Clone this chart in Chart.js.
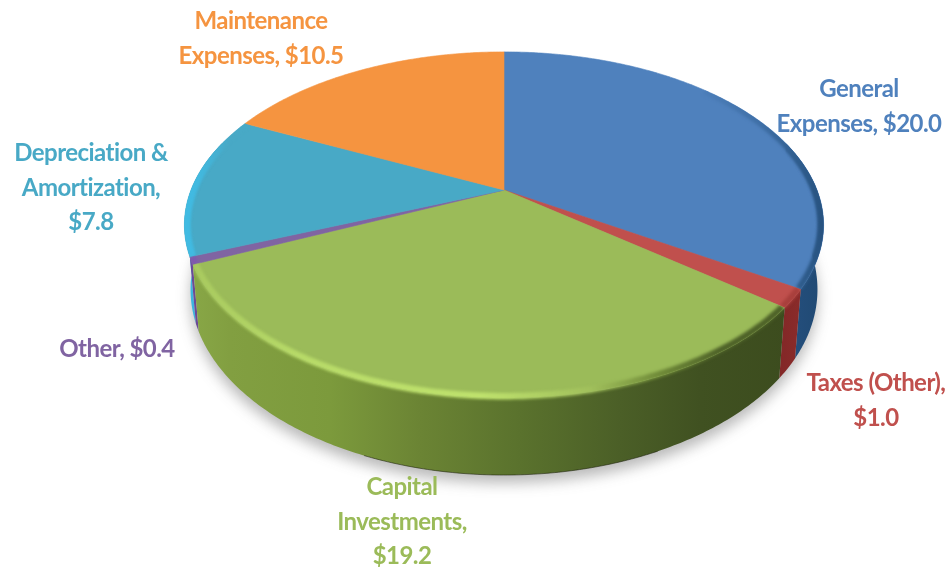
<!DOCTYPE html>
<html>
<head>
<meta charset="utf-8">
<style>
  html, body { margin: 0; padding: 0; background: #fff; }
  canvas { display: block; }
</style>
<script src="https://cdn.jsdelivr.net/npm/chart.js@4/dist/chart.umd.min.js"></script>
</head>
<body>
<canvas id="pie" width="951" height="569"></canvas>
<script>
// Expense breakdown, clockwise from twelve o'clock
const categories = ["General Expenses", "Taxes (Other)", "Capital Investments", "Other", "Depreciation & Amortization", "Maintenance Expenses"];
const values = [20.0, 1.0, 19.2, 0.4, 7.8, 10.5];
// Label wording line by line; the amount is appended to the last line
const labelLines = [
  ["General", "Expenses, "],
  ["Taxes (Other),", ""],
  ["Capital", "Investments,", ""],
  ["Other, "],
  ["Depreciation &", "Amortization,", ""],
  ["Maintenance", "Expenses, "]
];
const faceColors = ["#4f81bd", "#c0504d", "#9bbb59", "#8064a2", "#48a9c6", "#f59440"];

// Label centre x and first baseline y
const labelAnchors = [[859, 97], [876, 391], [402, 495], [117, 357], [91, 161], [261, 29]];
const LINE_HEIGHT = 34.5;

// Perspective projection of the disc: top face and bottom ring share a horizon
const CX = 504, K = -0.202;
const TOP = { cy: 190, ax: 313, ay: 166 };
const BOTTOM = { cy: 252, ax: 307, ay: 178 };

function project(ring, r, a) {
  const u = r * Math.cos(a), v = r * Math.sin(a), w = 1 + K * v;
  return [CX + ring.ax * u / w, ring.cy + ring.ay * v / w];
}

function arcPoints(ring, r, a0, a1) {
  const n = Math.max(2, Math.ceil(Math.abs(a1 - a0) * 90));
  const pts = [];
  for (let i = 0; i <= n; i++) pts.push(project(ring, r, a0 + (a1 - a0) * i / n));
  return pts;
}

function trace(ctx, pts, begin) {
  pts.forEach((p, i) => (i === 0 && begin) ? ctx.moveTo(p[0], p[1]) : ctx.lineTo(p[0], p[1]));
}

function hGradient(ctx, stops) {
  const g = ctx.createLinearGradient(180, 0, 830, 0);
  stops.forEach(([x, c]) => g.addColorStop((x - 180) / 650, c));
  return g;
}

// Side-wall shading per slice, left to right across the page
const wallStops = [
  [[760, "#2f5d8e"], [800, "#234d7a"], [830, "#1f4870"]],
  [[770, "#7f2626"], [800, "#8a2b2a"]],
  [[180, "#8aa948"], [230, "#829f41"], [330, "#7c9a3c"], [420, "#6b8434"], [520, "#5a722d"], [620, "#4b5f27"], [700, "#405121"], [790, "#3c4c1e"]],
  [[180, "#6b4a96"], [210, "#6b4a96"]],
  [[180, "#3fbbe2"], [210, "#38aed6"]],
  [[180, "#c97a35"], [830, "#c97a35"]]
];
// Soft rim where the top face rolls over into the wall
const rimStops = [
  [[690, "#4f81bd"], [760, "#3f6fa6"], [800, "#2f5c8c"], [830, "#26507c"]],
  [[770, "#a83f3c"], [810, "#a83f3c"]],
  [[190, "#a8c95f"], [300, "#b7da68"], [480, "#bfe26d"], [590, "#a1c05c"], [660, "#6f8a38"], [720, "#4e6228"], [790, "#4e6228"]],
  [[180, "#7f58ad"], [220, "#7f58ad"]],
  [[180, "#40bce4"], [200, "#42b8de"], [230, "#48a9c6"]],
  [[180, "#f59440"], [830, "#f59440"]]
];
// Angle spans that face the viewer; the rim reaches a little further round than the wall
const WALL_FROM = -0.3, WALL_TO = Math.PI + 0.3;
const RIM_FROM = -0.75, RIM_TO = Math.PI + 0.75;
const BACK_TO_FRONT = [0, 4, 3, 1, 2];

function spanOf(arc, from, to) {
  const a0 = Math.max(arc.a0, from), a1 = Math.min(arc.a1, to);
  return a1 > a0 ? [a0, a1] : null;
}

function strokeRim(ctx, span, stops) {
  ctx.save();
  ctx.filter = "blur(1.7px)";
  ctx.beginPath();
  trace(ctx, arcPoints(TOP, 0.993, span[0], span[1]), true);
  ctx.strokeStyle = hGradient(ctx, stops);
  ctx.lineWidth = 6.5;
  ctx.stroke();
  ctx.restore();
}

const pie3d = {
  id: "pie3d",
  beforeDatasetDraw(chart) {
    const ctx = chart.ctx;
    const arcs = chart.getDatasetMeta(0).data.map(el => {
      const p = el.getProps(["startAngle", "endAngle"], true);
      return { a0: p.startAngle, a1: p.endAngle };
    });

    // Ground shadow under the disc
    ctx.save();
    ctx.filter = "blur(7px)";
    ctx.fillStyle = "rgba(60,60,60,0.36)";
    ctx.beginPath();
    trace(ctx, arcPoints(BOTTOM, 1.0, 0, Math.PI * 2).map(p => [p[0], p[1] + 8]), true);
    ctx.closePath();
    ctx.fill();
    ctx.restore();

    // Side walls, back slices first so the front slice overlaps them
    BACK_TO_FRONT.forEach(i => {
      const span = spanOf(arcs[i], WALL_FROM, WALL_TO);
      if (!span) return;
      ctx.beginPath();
      trace(ctx, arcPoints(TOP, 1, span[0], span[1]), true);
      trace(ctx, arcPoints(BOTTOM, 1, span[1], span[0]), false);
      ctx.closePath();
      ctx.fillStyle = hGradient(ctx, wallStops[i]);
      ctx.fill();
    });

    // Dark contact line under the front of the disc
    ctx.beginPath();
    trace(ctx, arcPoints(BOTTOM, 1, 1.15, 1.95), true);
    ctx.strokeStyle = "rgba(25,30,10,0.55)";
    ctx.lineWidth = 1;
    ctx.stroke();

    // Top faces
    arcs.forEach((arc, i) => {
      ctx.beginPath();
      const apex = project(TOP, 0, 0);
      ctx.moveTo(apex[0], apex[1]);
      trace(ctx, arcPoints(TOP, 1, arc.a0, arc.a1), false);
      ctx.closePath();
      ctx.fillStyle = faceColors[i];
      ctx.strokeStyle = faceColors[i];
      ctx.lineWidth = 0.6;
      ctx.fill();
      ctx.stroke();
    });

    // Rounded rim: once clipped to the face band, once clipped to the wall,
    // so the blur never bleeds onto the page
    BACK_TO_FRONT.forEach(i => {
      const rim = spanOf(arcs[i], RIM_FROM, RIM_TO);
      if (rim) {
        ctx.save();
        ctx.beginPath();
        trace(ctx, arcPoints(TOP, 1, rim[0], rim[1]), true);
        trace(ctx, arcPoints(TOP, 0.9, rim[1], rim[0]), false);
        ctx.closePath();
        ctx.clip();
        strokeRim(ctx, rim, rimStops[i]);
        ctx.restore();
      }
      const wall = spanOf(arcs[i], WALL_FROM, WALL_TO);
      if (wall) {
        ctx.save();
        ctx.beginPath();
        trace(ctx, arcPoints(TOP, 1, wall[0], wall[1]), true);
        trace(ctx, arcPoints(BOTTOM, 1, wall[1], wall[0]), false);
        ctx.closePath();
        ctx.clip();
        strokeRim(ctx, wall, rimStops[i]);
        ctx.restore();
      }
    });

    return false;
  },
  afterDatasetsDraw(chart) {
    const ctx = chart.ctx;
    ctx.save();
    ctx.font = "bold 24px Lato, sans-serif";
    ctx.letterSpacing = "-0.55px";
    ctx.textAlign = "center";
    ctx.textBaseline = "alphabetic";
    labelLines.forEach((lines, i) => {
      ctx.fillStyle = faceColors[i];
      lines.forEach((line, j) => {
        const text = j === lines.length - 1 ? line + "$" + values[i].toFixed(1) : line;
        ctx.fillText(text, labelAnchors[i][0], labelAnchors[i][1] + j * LINE_HEIGHT);
      });
    });
    ctx.restore();
  }
};

new Chart(document.getElementById("pie"), {
  type: "pie",
  data: {
    labels: categories,
    datasets: [{ data: values, backgroundColor: faceColors, borderWidth: 0 }]
  },
  options: {
    responsive: false,
    animation: false,
    rotation: 0,
    events: [],
    plugins: { legend: { display: false }, tooltip: { enabled: false } }
  },
  plugins: [pie3d]
});
</script>
</body>
</html>
